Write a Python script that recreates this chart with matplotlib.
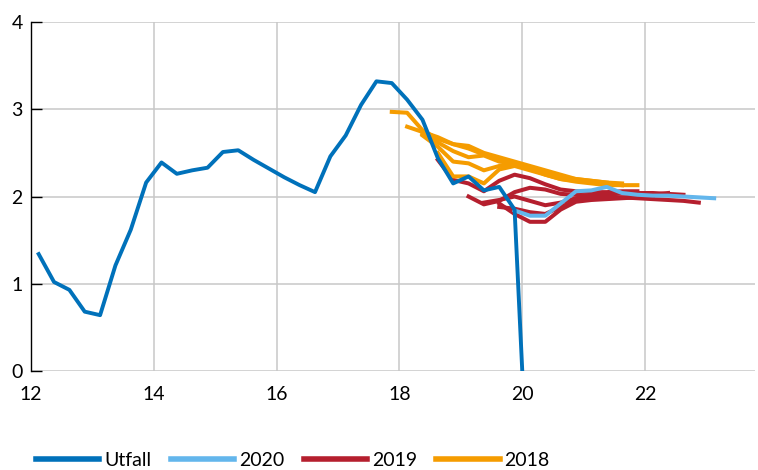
import matplotlib
matplotlib.use('Agg')
import matplotlib.pyplot as plt
import numpy as np

plt.rcParams['font.family'] = ['Lato', 'DejaVu Sans']

# Utfall, quarterly (2012 Q1 ...), last value is the blank that drops to zero
utfall_x = [12.125, 12.375, 12.625, 12.875, 13.125, 13.375, 13.625, 13.875,
            14.125, 14.375, 14.625, 14.875, 15.125, 15.375, 15.625, 15.875,
            16.125, 16.375, 16.625, 16.875, 17.125, 17.375, 17.625, 17.875,
            18.125, 18.375, 18.625, 18.875, 19.125, 19.375, 19.625, 19.875,
            20.0]
utfall = [1.34, 1.02, 0.93, 0.68, 0.64, 1.21, 1.62, 2.16,
          2.39, 2.26, 2.30, 2.33, 2.51, 2.53, 2.42, 2.32,
          2.22, 2.13, 2.05, 2.46, 2.70, 3.05, 3.32, 3.30,
          3.11, 2.88, 2.44, 2.15, 2.23, 2.07, 2.11, 1.85,
          0.0]

# forecasts: (first quarter, values)
prog_2020 = [(19.875, [1.84, 1.78, 1.78, 1.92, 2.06, 2.07, 2.11, 2.04, 2.02,
                       2.01, 2.01, 2.00, 1.99, 1.98])]

prog_2019 = [
    (18.625, [2.42, 2.19, 2.15, 2.06, 2.18, 2.25, 2.21, 2.14, 2.08, 2.06,
              2.05, 2.05, 2.06, 2.06]),
    (19.125, [2.00, 1.91, 1.95, 2.05, 2.10, 2.08, 2.03, 2.02, 2.01, 2.00,
              1.99, 1.98, 1.97, 1.96, 1.95, 1.93]),
    (19.375, [1.93, 1.96, 2.00, 1.95, 1.90, 1.93, 1.98, 2.01, 2.03, 2.04,
              2.04, 2.04, 2.03, 2.02]),
    (19.625, [1.88, 1.86, 1.82, 1.80, 1.88, 1.95, 1.97, 1.98, 1.99, 2.00,
              2.02, 2.04]),
    (19.625, [1.92, 1.80, 1.71, 1.71, 1.85, 1.94, 1.96, 1.97, 1.98, 1.99,
              2.00]),
]

prog_2018 = [
    (17.875, [2.97, 2.96, 2.76, 2.66, 2.60, 2.55, 2.48, 2.42, 2.38, 2.33,
              2.27, 2.22, 2.20, 2.18, 2.16]),
    (18.125, [2.80, 2.74, 2.68, 2.60, 2.58, 2.50, 2.45, 2.40, 2.35, 2.30,
              2.25, 2.20, 2.18, 2.16, 2.15]),
    (18.375, [2.72, 2.62, 2.52, 2.45, 2.47, 2.40, 2.38, 2.34, 2.28, 2.22,
              2.18, 2.17, 2.15, 2.13]),
    (18.375, [2.70, 2.57, 2.40, 2.38, 2.30, 2.35, 2.38, 2.32, 2.25, 2.20,
              2.18, 2.16, 2.14, 2.13, 2.13]),
    (18.625, [2.50, 2.23, 2.23, 2.15, 2.31, 2.35, 2.30, 2.25, 2.20, 2.17,
              2.15, 2.13, 2.13]),
]

x_ticks = [12, 14, 16, 18, 20, 22]
x_labels = ['12', '14', '16', '18', '20', '22']
y_ticks = [0, 1, 2, 3, 4]

c_utfall = '#0071BA'
c_2020 = '#63B6EC'
c_2019 = '#B51F2E'
c_2018 = '#F59C00'


def draw_forecasts(ax, forecasts, color, z, label):
    for i, (start, vals) in enumerate(forecasts):
        xs = start + 0.25 * np.arange(len(vals))
        ax.plot(xs, vals, color=color, lw=2.9, zorder=z,
                solid_joinstyle='round', label=label if i == 0 else None)


def format_ax(ax):
    ax.set_xlim(12, 23.79)
    ax.set_ylim(0, 4)
    ax.set_xticks(x_ticks)
    ax.set_xticklabels(x_labels)
    ax.set_yticks(y_ticks)
    ax.grid(True, color='#C8C8C8', linewidth=1.1)
    ax.set_axisbelow(True)
    for s in ['top', 'right', 'bottom']:
        ax.spines[s].set_visible(False)
    ax.spines['left'].set_color('black')
    ax.spines['left'].set_linewidth(1.0)
    ax.tick_params(axis='y', direction='in', length=8, width=1.0,
                   color='black', pad=6, labelsize=14)
    ax.tick_params(axis='x', length=0, pad=11, labelsize=14)


fig = plt.figure(figsize=(7.58, 4.70), dpi=100)
ax = fig.add_axes([31 / 758, 1 - 371 / 470, (755 - 31) / 758, (371 - 22) / 470])

ax.plot(utfall_x, utfall, color=c_utfall, lw=2.8, zorder=5,
        solid_joinstyle='round', label='Utfall')
draw_forecasts(ax, prog_2020, c_2020, 4, '2020')
draw_forecasts(ax, prog_2019, c_2019, 2, '2019')
draw_forecasts(ax, prog_2018, c_2018, 3, '2018')

format_ax(ax)

handles, labels = ax.get_legend_handles_labels()
order = [labels.index(l) for l in ['Utfall', '2020', '2019', '2018']]
leg = fig.legend([handles[i] for i in order], [labels[i] for i in order],
                 loc='center left', bbox_to_anchor=(28 / 758, 1 - 460 / 470),
                 ncol=4, frameon=False, fontsize=14, handlelength=3.25,
                 handletextpad=0.26, columnspacing=1.0, borderaxespad=0)
for line in leg.get_lines():
    line.set_linewidth(4)

fig.savefig('out.png', dpi=100)
